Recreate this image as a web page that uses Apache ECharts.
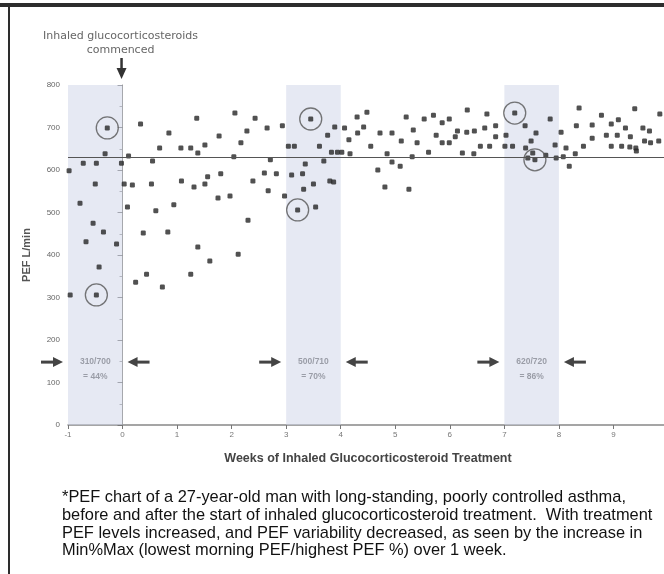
<!DOCTYPE html>
<html><head><meta charset="utf-8">
<script src="https://cdn.jsdelivr.net/npm/echarts@6/dist/echarts.min.js"></script>
<style>html,body{margin:0;padding:0;background:#fff;overflow:hidden}#c{width:664px;height:574px}</style>
</head><body><div id="c"></div>
<script>
// ---- data (weeks, PEF L/min) ----
const xTicks = [-1,0,1,2,3,4,5,6,7,8,9,10];
const yTicks = [0,100,200,300,400,500,600,700,800];
const weekM1 = [[-0.98,598],[-0.96,306],[-0.78,522],[-0.72,616],[-0.67,431],[-0.54,475],[-0.50,567],[-0.48,616],[-0.48,306],[-0.43,372],[-0.35,454],[-0.32,638],[-0.28,699],[-0.11,426],[-0.02,616]];
const week0 = [[0.03,567],[0.09,513],[0.11,633],[0.18,565],[0.24,336],[0.33,708],[0.38,452],[0.44,355],[0.53,567],[0.55,621],[0.61,504],[0.68,652],[0.73,325],[0.83,454],[0.85,687],[0.94,518]];
const week1 = [[1.07,652],[1.08,574],[1.25,652],[1.25,355],[1.31,560],[1.36,722],[1.38,640],[1.38,419],[1.51,659],[1.51,567],[1.56,584],[1.60,386],[1.75,534],[1.77,680],[1.80,591],[1.97,539]];
const week2 = [[2.04,631],[2.06,734],[2.12,402],[2.17,664],[2.28,692],[2.30,482],[2.39,574],[2.43,722],[2.60,593],[2.65,699],[2.67,551],[2.71,624],[2.82,591],[2.93,704],[2.97,539]];
const week3 = [[3.04,656],[3.10,588],[3.15,656],[3.21,506],[3.30,591],[3.32,555],[3.35,614],[3.45,720],[3.50,567],[3.54,513],[3.61,656],[3.69,621],[3.76,682],[3.80,574],[3.83,642],[3.87,572],[3.89,701],[3.94,642]];
const week4 = [[4.02,642],[4.07,699],[4.15,671],[4.17,638],[4.30,725],[4.31,687],[4.42,701],[4.48,736],[4.55,656],[4.68,600],[4.72,687],[4.81,560],[4.85,638],[4.94,687],[4.94,619]];
const week5 = [[5.09,609],[5.11,668],[5.20,725],[5.25,555],[5.31,631],[5.33,694],[5.40,664],[5.53,720],[5.61,642],[5.70,729],[5.75,682],[5.86,711],[5.86,664],[5.99,720],[5.99,664]];
const week6 = [[6.10,678],[6.14,692],[6.23,640],[6.31,689],[6.32,741],[6.44,638],[6.45,692],[6.56,656],[6.64,699],[6.68,732],[6.73,656],[6.84,704],[6.84,678]];
const week7 = [[7.01,656],[7.03,682],[7.15,656],[7.19,734],[7.38,704],[7.39,652],[7.43,628],[7.49,668],[7.52,640],[7.56,624],[7.58,687],[7.76,635],[7.84,720],[7.93,659],[7.95,628]];
const week8 = [[8.04,689],[8.08,631],[8.13,652],[8.19,609],[8.30,638],[8.32,704],[8.37,746],[8.45,656],[8.61,706],[8.61,675],[8.78,729],[8.87,682],[8.96,708],[8.96,656]];
const week9 = [[9.07,682],[9.09,718],[9.15,656],[9.22,699],[9.30,654],[9.31,678],[9.39,744],[9.41,652],[9.42,645],[9.54,699],[9.57,668],[9.66,692],[9.68,664],[9.83,668],[9.85,732]];
const circledMinMax = [[-0.48,306],[-0.28,699],[3.21,506],[3.45,720],[7.56,624],[7.19,734]];
const bands = [[-1,0],[3,4],[7,8]];
const bandRatios = ['310/700','500/710','620/720'];
const bandPcts = ['= 44%','= 70%','= 86%'];
const targetPEF = 630;
const startWeek = 0;
const captionLines = [
 '*PEF chart of a 27-year-old man with long-standing, poorly controlled asthma,',
 'before and after the start of inhaled glucocorticosteroid treatment.  With treatment',
 'PEF levels increased, and PEF variability decreased, as seen by the increase in',
 'Min%Max (lowest morning PEF/highest PEF %) over 1 week.'
];

const allPoints = [].concat(weekM1,week0,week1,week2,week3,week4,week5,week6,week7,week8,week9);
const chart = echarts.init(document.getElementById('c'), null, {renderer:'canvas'});
const grey = '#777';
chart.setOption({
  animation:false,
  backgroundColor:'#fff',
  grid:{left:68,right:-4,top:85,bottom:149,containLabel:false,outerBoundsMode:'none'},
  xAxis:{type:'value',min:xTicks[0],max:xTicks[xTicks.length-1],interval:1,
    name:'Weeks of Inhaled Glucocorticosteroid Treatment',nameLocation:'middle',nameGap:27,
    nameTextStyle:{fontSize:12.5,fontWeight:'bold',color:'#444',fontFamily:'Liberation Sans, Arial'},
    axisLine:{lineStyle:{color:'#888',width:1.5}},
    axisTick:{show:true,length:4,lineStyle:{color:grey}},
    axisLabel:{fontSize:8,color:grey,margin:6,showMaxLabel:true},
    splitLine:{show:false}},
  yAxis:{type:'value',min:yTicks[0],max:yTicks[yTicks.length-1],interval:100,
    name:'PEF L/min',nameLocation:'middle',nameGap:36,nameRotate:90,
    nameTextStyle:{fontSize:11,fontWeight:'bold',color:'#555'},
    axisLine:{show:true,lineStyle:{color:'#999',width:1}},
    axisTick:{show:true,length:5,lineStyle:{color:grey}},
    minorTick:{show:true,splitNumber:2,length:3,lineStyle:{color:'#999'}},
    axisLabel:{fontSize:8,color:'#666',margin:8},
    splitLine:{show:false}},
  series:[
    {type:'scatter',data:allPoints,symbol:'roundRect',symbolSize:5,
     itemStyle:{color:'#262626'},z:3,
     markArea:{silent:true,itemStyle:{color:'rgba(205,212,232,0.5)'},
       data:bands.map(b=>[{xAxis:b[0],yAxis:0},{xAxis:b[1],yAxis:800}])},
     markLine:{silent:true,symbol:'none',label:{show:false},
       lineStyle:{color:'#555',width:1.2,type:'solid'},data:[{yAxis:targetPEF}]}},
    {type:'scatter',data:circledMinMax,symbol:'circle',symbolSize:22,silent:true,z:4,
     itemStyle:{color:'rgba(0,0,0,0)',borderColor:'#555',borderWidth:1.3}}
  ]
});

function px(p){return chart.convertToPixel({gridIndex:0},p);}
const g = [];
g.push({type:'rect',shape:{x:0,y:3,width:664,height:4},style:{fill:'#2d2d2d'}});
g.push({type:'rect',shape:{x:8,y:3,width:2,height:571},style:{fill:'#2d2d2d'}});
function arrow(x1,y,x2,w){
  const d = x2>x1?1:-1;
  g.push({type:'line',shape:{x1:x1,y1:y,x2:x2-d*7,y2:y},style:{stroke:'#444',lineWidth:w||3}});
  g.push({type:'polygon',shape:{points:[[x2,y],[x2-d*10,y-5],[x2-d*10,y+5]]},style:{fill:'#444'}});
}
const yArrow = px([0,148])[1];
const yTxt = px([0,131])[1];
bands.forEach((b,i)=>{
  const L = px([b[0],0])[0], R = px([b[1],0])[0];
  arrow(L-27,yArrow,L-5);
  arrow(R+27,yArrow,R+5);
  g.push({type:'text',x:(L+R)/2,y:yTxt,style:{text:bandRatios[i]+'\n'+bandPcts[i],align:'center',verticalAlign:'middle',
    font:'bold 8.5px Liberation Sans, Arial',lineHeight:15,fill:'#666'}});
});
// start of treatment annotation
const sx = px([startWeek,0])[0];
g.push({type:'text',x:sx-2,y:43,style:{text:'Inhaled glucocorticosteroids\ncommenced',align:'center',verticalAlign:'middle',
  font:'11px DejaVu Sans, sans-serif',lineHeight:14,fill:'#666'}});
g.push({type:'line',shape:{x1:sx-1,y1:58,x2:sx-1,y2:70},style:{stroke:'#333',lineWidth:2.5}});
g.push({type:'polygon',shape:{points:[[sx-1,79],[sx-6,68],[sx+4,68]]},style:{fill:'#333'}});
// caption
g.push({type:'text',x:62,y:489,style:{text:captionLines.join('\n'),font:'16.4px "Liberation Sans", Arial, sans-serif',
  lineHeight:17.6,fill:'#111',verticalAlign:'top'}});
chart.setOption({graphic:g});
</script></body></html>
